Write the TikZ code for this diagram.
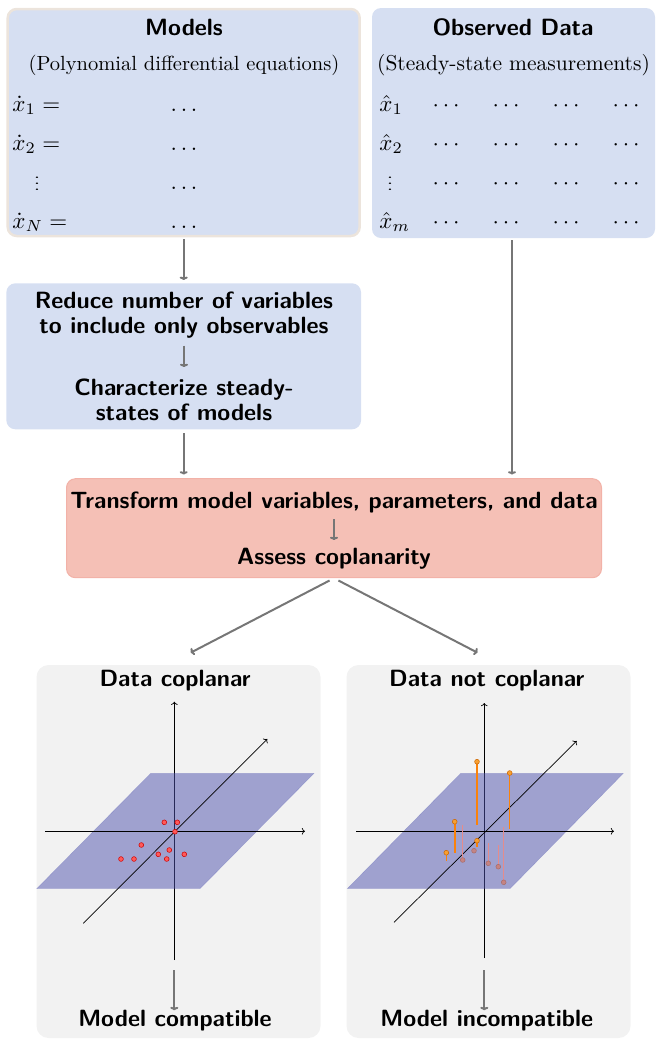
\RequirePackage{fix-cm}
\documentclass[tikz,border=0pt]{standalone}
\usepackage{amsmath, amssymb}
\usepackage{graphicx}
\usepackage{tikz}
\usetikzlibrary{positioning, arrows.meta}

\definecolor{boxblue}{RGB}{214,223,242}
\definecolor{boxrim}{RGB}{236,228,220}
\definecolor{boxsalmon}{RGB}{245,192,182}
\definecolor{salmonrim}{RGB}{242,178,168}
\definecolor{panelgray}{RGB}{242,242,242}
\definecolor{planeblue}{RGB}{78,82,174}
\definecolor{flowgray}{RGB}{118,118,118}
\definecolor{ptred}{RGB}{255,90,90}
\definecolor{ptorange}{RGB}{247,160,50}
\definecolor{ptpink}{RGB}{205,125,115}
\definecolor{stempink}{RGB}{228,140,140}
\definecolor{stemorange}{RGB}{250,130,10}

\newcommand{\headtext}{\fontsize{23.5}{25}\selectfont\sffamily\bfseries}
\newcommand{\shortvdots}{\scalebox{1}[0.6]{$\vdots$}}

\begin{document}
\begin{tikzpicture}[x=1pt, y=-1pt,
    bluebox/.style={fill=boxblue, rounded corners=9pt, inner sep=0pt},
    salmonbox/.style={fill=boxsalmon, draw=salmonrim, line width=1pt, rounded corners=9pt, inner sep=0pt},
    graypanel/.style={fill=panelgray, rounded corners=12pt, inner sep=0pt},
    mathrow/.style={scale=2.3, inner sep=0pt},
    result/.style={font=\headtext, inner sep=0pt},
    flow/.style={draw=flowgray, line width=2pt, -{To[width=8pt, length=3.5pt]}, shorten <=2pt, shorten >=3pt},
    axisline/.style={draw=black, line width=0.7pt, ->},
    plane/.style={fill=planeblue, fill opacity=0.5, draw=planeblue, draw opacity=0.3},
    redpt/.style={fill=ptred, draw=red!80!black, line width=0.5pt},
    uppt/.style={fill=ptorange, draw=orange!80!black, line width=0.5pt},
    downpt/.style={fill=ptpink, draw=ptpink!80!black, line width=0.5pt, opacity=0.8},
    upstem/.style={draw=stemorange, line width=1.2pt},
    downstem/.style={draw=stempink, line width=1.3pt}]
    \useasboundingbox (0,0) rectangle (657,1045);

    % boxes
    \node[bluebox, draw=boxrim, line width=2.5pt, minimum width=352pt, minimum height=227pt] (models) at (183.7,122.5) {};
    \node[bluebox, minimum width=283pt, minimum height=230pt] (data) at (513.5,123) {};
    \node[bluebox, minimum width=354.7pt, minimum height=146pt] (reduce) at (183.7,356.3) {};
    \node[salmonbox, minimum width=535pt, minimum height=99pt] (transform) at (334,528.2) {};
    \node[graypanel, minimum width=284pt, minimum height=373pt] (lpanel) at (178.5,851.5) {};
    \node[graypanel, minimum width=284pt, minimum height=373pt] (rpanel) at (488.5,851.5) {};

    % models
    \node[font=\headtext] (modtitle) at (184,27) {Models};
    \node[scale=2.05] (modsub) at (184,65) {(Polynomial differential equations)};
    \node[mathrow, anchor=base west] (mx1) at (12,111.5) {$\dot{x}_1 =$};
    \node[mathrow, anchor=base west] (mx2) at (12,150.5) {$\dot{x}_2 =$};
    \node[mathrow, anchor=base] (mx3) at (37,190) {\shortvdots};
    \node[mathrow, anchor=base west] (mx4) at (12,228) {$\dot{x}_N =$};
    \foreach \row/\yy in {1/111.5, 2/150.5, 3/189, 4/228}
        \node[mathrow, anchor=base] (mdots\row) at (184,\yy) {$\ldots$};

    % observed data
    \node[font=\headtext] (datatitle) at (513,27) {Observed Data};
    \node[scale=2.15] (datasub) at (513.5,65) {(Steady-state measurements)};
    \node[mathrow, anchor=base west] (dx1) at (379,111.5) {$\hat{x}_1$};
    \node[mathrow, anchor=base west] (dx2) at (379,150.5) {$\hat{x}_2$};
    \node[mathrow, anchor=base] (dx3) at (390,190) {\shortvdots};
    \node[mathrow, anchor=base west] (dx4) at (379,228) {$\hat{x}_m$};
    \foreach \row/\yy in {1/111.5, 2/150.5, 3/189, 4/228}
        \foreach \col/\xx in {1/448, 2/508, 3/568, 4/628}
            \node[mathrow, anchor=base] (ddots\row\col) at (\xx,\yy) {$\cdots$};

    % reduce and characterize
    \node[font=\headtext, align=center] (reducetxt) at (184,315) {Reduce number of variables\\to include only observables};
    \node[font=\headtext, align=center] (chartxt) at (184,399.7) {Characterize steady-\\states of models};

    % transform
    \node[font=\headtext] (tline1) at (334,502.7) {Transform model variables, parameters, and data};
    \node[font=\headtext] (tline2) at (334,558.3) {Assess coplanarity};

    \draw[flow] (models) -- (reduce);
    \draw[flow, shorten <=4pt, shorten >=8pt] (reducetxt) -- (chartxt);
    \draw[flow, shorten <=3.5pt, shorten >=3.5pt] (reduce.south) -- (reduce.south |- transform.north);
    \draw[flow, shorten >=3.5pt] ([xshift=-1.5pt]data.south) -- ([xshift=-1.5pt]data.south |- transform.north);
    \draw[flow, shorten <=2.5pt, shorten >=4pt] (tline1) -- (tline2);

    \coordinate (lbranch) at (190.6,652.7);
    \coordinate (rbranch) at (477.6,652.7);
    \draw[flow, shorten <=5pt, shorten >=0pt] (transform.south) -- (lbranch);
    \draw[flow, shorten <=5pt, shorten >=0pt] (transform.south) -- (rbranch);

    % data coplanar
    \node[font=\headtext] (ltitle) at (175,680.7) {Data coplanar};
    \node[result] (lresult) at (175,1021) {Model compatible};
    \draw[axisline] (174.3,960) -- (174.3,701.7);
    \filldraw[plane] (150.7,773.3) -- (314,773.3) -- (200,888.7) -- (36.7,888.7) -- cycle;
    \draw[axisline] (45,831.3) -- (305,831.3);
    \draw[axisline] (83.3,923.3) -- (267.3,739);
    \foreach \px/\py in {164.3/822.3, 177.3/822.3, 175/831.7, 141.3/845, 169.3/850,
                         158.3/854.3, 184.3/854.3, 121/859, 134/859, 166.7/859}
        \filldraw[redpt] (\px,\py) circle (2.4pt);
    \coordinate (lgap) at (174.3,970);
    \draw[flow, shorten <=0pt, shorten >=0pt] (lgap) -- (lgap |- lresult.north);

    % data not coplanar
    \begin{scope}[xshift=310pt]
        \node[font=\headtext] (rtitle) at (176.7,680.7) {Data not coplanar};
        \node[result] (rresult) at (176.7,1021) {Model incompatible};
        \draw[axisline] (174.3,958) -- (174.3,703);
        \filldraw[plane] (150.7,773.3) -- (313.3,773.3) -- (200,888.7) -- (37.3,888.7) -- cycle;
        \draw[axisline] (46,831.3) -- (304,831.3);
        \draw[axisline] (84,922.3) -- (266.7,741);
        \foreach \px/\py/\qy in {152.7/860/825, 178.3/863.3/843.3, 188.3/866.7/845, 193.7/882.3/827.3}
            \draw[downstem] (\px,\qy) -- (\px,\py);
        \foreach \px/\py in {152.7/860, 164/850.7, 178.3/863.3, 188.3/866.7, 193.7/882.3}
            \filldraw[downpt] (\px,\py) circle (2.4pt);
        \foreach \px/\py/\qy in {167/761.7/825, 199.7/773/829.3, 167/840.7/847.3, 136.3/852.7/860.7}
            \draw[upstem] (\px,\py) -- (\px,\qy);
        \draw[upstem, line width=1.8pt] (144.7,821.7) -- (144.7,852.7);
        \foreach \px/\py in {167/761.7, 199.7/773, 144.7/821.7, 167/840.7, 136.3/852.7}
            \filldraw[uppt] (\px,\py) circle (2.4pt);
        \coordinate (rgap) at (174.3,970);
        \draw[flow, shorten <=0pt, shorten >=0pt] (rgap) -- (rgap |- rresult.north);
    \end{scope}
\end{tikzpicture}
\end{document}
